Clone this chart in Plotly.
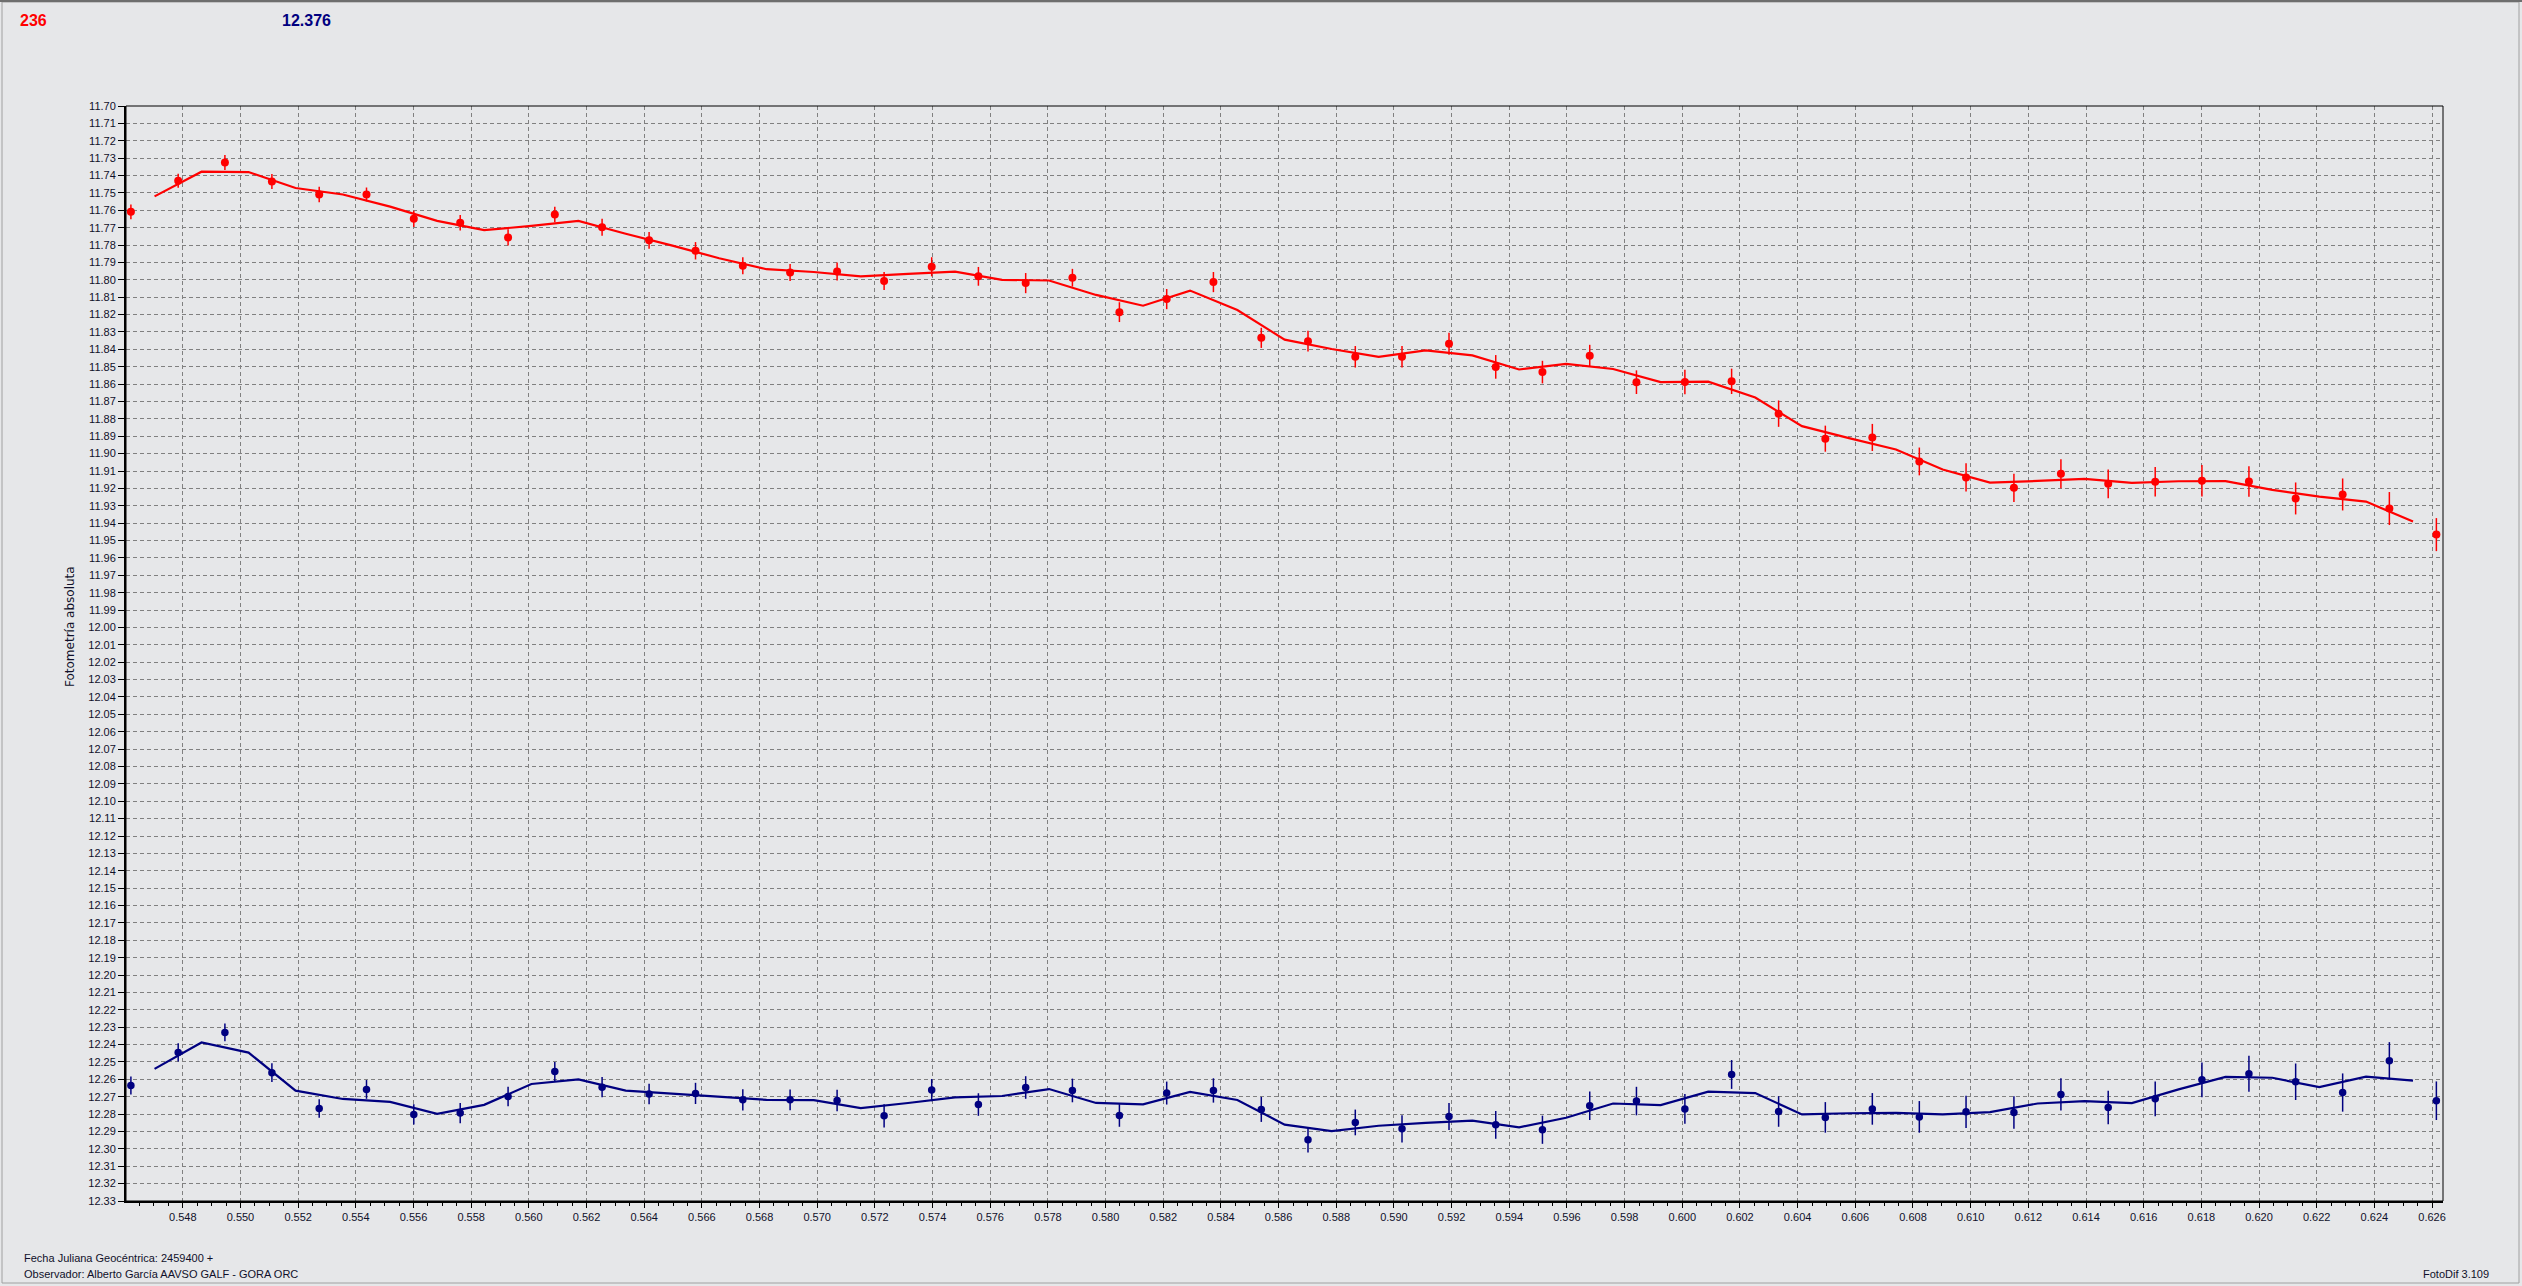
import plotly.graph_objects as go

# ---------------- data ----------------
jd = [0.54620, 0.54784, 0.54946, 0.55109, 0.55273, 0.55437, 0.55601, 0.55762, 0.55928, 0.56090,
      0.56254, 0.56417, 0.56578, 0.56742, 0.56906, 0.57069, 0.57232, 0.57397, 0.57559, 0.57723,
      0.57885, 0.58048, 0.58212, 0.58374, 0.58540, 0.58702, 0.58866, 0.59028, 0.59191, 0.59353,
      0.59515, 0.59679, 0.59841, 0.60009, 0.60171, 0.60334, 0.60496, 0.60659, 0.60822, 0.60984,
      0.61150, 0.61313, 0.61477, 0.61640, 0.61802, 0.61965, 0.62127, 0.62290, 0.62452, 0.62615]

red_mag = [11.7609, 11.7430, 11.7325, 11.7434, 11.7509, 11.7509, 11.7649, 11.7672, 11.7756, 11.7624,
           11.7697, 11.7773, 11.7833, 11.7919, 11.7958, 11.7952, 11.8007, 11.7925, 11.7980, 11.8019,
           11.7988, 11.8186, 11.8111, 11.8013, 11.8334, 11.8353, 11.8443, 11.8443, 11.8368, 11.8501,
           11.8531, 11.8437, 11.8589, 11.8588, 11.8584, 11.8770, 11.8914, 11.8907, 11.9045, 11.9137,
           11.9197, 11.9116, 11.9174, 11.9162, 11.9156, 11.9160, 11.9258, 11.9235, 11.9316, 11.9466]

red_err = [0.0042, 0.0040, 0.0043, 0.0043, 0.0045, 0.0040, 0.0047, 0.0045, 0.0047, 0.0045,
           0.0049, 0.0048, 0.0050, 0.0049, 0.0049, 0.0052, 0.0052, 0.0055, 0.0054, 0.0058,
           0.0051, 0.0057, 0.0058, 0.0058, 0.0058, 0.0060, 0.0062, 0.0062, 0.0063, 0.0068,
           0.0065, 0.0063, 0.0068, 0.0071, 0.0073, 0.0076, 0.0075, 0.0078, 0.0080, 0.0081,
           0.0081, 0.0083, 0.0083, 0.0085, 0.0090, 0.0088, 0.0092, 0.0092, 0.0095, 0.0095]

blue_mag = [12.2635, 12.2445, 12.2330, 12.2562, 12.2768, 12.2658, 12.2802, 12.2794, 12.2699, 12.2555,
            12.2645, 12.2685, 12.2681, 12.2718, 12.2718, 12.2722, 12.2810, 12.2662, 12.2745, 12.2647,
            12.2664, 12.2808, 12.2679, 12.2664, 12.2773, 12.2948, 12.2848, 12.2885, 12.2814, 12.2862,
            12.2890, 12.2752, 12.2725, 12.2770, 12.2572, 12.2785, 12.2819, 12.2770, 12.2816, 12.2787,
            12.2791, 12.2687, 12.2762, 12.2712, 12.2603, 12.2568, 12.2614, 12.2676, 12.2493, 12.2723]

blue_err = [0.0052, 0.0053, 0.0051, 0.0054, 0.0053, 0.0054, 0.0058, 0.0058, 0.0056, 0.0055,
            0.0058, 0.0059, 0.0061, 0.0061, 0.0060, 0.0062, 0.0067, 0.0064, 0.0065, 0.0065,
            0.0068, 0.0065, 0.0066, 0.0070, 0.0072, 0.0073, 0.0074, 0.0078, 0.0078, 0.0080,
            0.0081, 0.0082, 0.0082, 0.0086, 0.0083, 0.0088, 0.0088, 0.0091, 0.0091, 0.0093,
            0.0093, 0.0093, 0.0097, 0.0100, 0.0100, 0.0103, 0.0105, 0.0110, 0.0107, 0.0111]

# smoothed curves
curve_jd = [0.54702, 0.54865, 0.55028, 0.55191, 0.55355, 0.55519, 0.55682, 0.55845, 0.56009, 0.56172,
            0.56336, 0.56498, 0.56660, 0.56824, 0.56988, 0.57151, 0.57315, 0.57478, 0.57641, 0.57804,
            0.57967, 0.58130, 0.58293, 0.58457, 0.58621, 0.58784, 0.58947, 0.59110, 0.59272, 0.59434,
            0.59597, 0.59760, 0.59925, 0.60090, 0.60253, 0.60415, 0.60578, 0.60741, 0.60903, 0.61067,
            0.61232, 0.61395, 0.61559, 0.61721, 0.61884, 0.62046, 0.62209, 0.62371, 0.62534]

red_curve = [11.7520, 11.7378, 11.7380, 11.7472, 11.7509, 11.7579, 11.7661, 11.7714, 11.7690, 11.7661,
             11.7735, 11.7803, 11.7876, 11.7939, 11.7955, 11.7980, 11.7966, 11.7953, 11.8000, 11.8004,
             11.8087, 11.8149, 11.8062, 11.8174, 11.8344, 11.8398, 11.8443, 11.8406, 11.8435, 11.8516,
             11.8484, 11.8513, 11.8589, 11.8586, 11.8677, 11.8842, 11.8911, 11.8976, 11.9091, 11.9167,
             11.9157, 11.9145, 11.9168, 11.9159, 11.9158, 11.9209, 11.9247, 11.9276, 11.9391]

blue_curve = [12.2540, 12.2388, 12.2446, 12.2665, 12.2713, 12.2730, 12.2798, 12.2747, 12.2627, 12.2600,
              12.2665, 12.2683, 12.2700, 12.2718, 12.2720, 12.2766, 12.2736, 12.2704, 12.2696, 12.2656,
              12.2736, 12.2744, 12.2672, 12.2719, 12.2861, 12.2898, 12.2867, 12.2850, 12.2838, 12.2876,
              12.2821, 12.2739, 12.2748, 12.2671, 12.2679, 12.2802, 12.2795, 12.2793, 12.2802, 12.2789,
              12.2739, 12.2725, 12.2737, 12.2658, 12.2586, 12.2591, 12.2645, 12.2585, 12.2608]

red_label = "236"
blue_label = "12.376"
y_title = "Fotometría absoluta"
footer_1 = "Fecha Juliana Geocéntrica: 2459400 +"
footer_2 = "Observador: Alberto García AAVSO GALF - GORA ORC"
footer_3 = "FotoDif 3.109"

# ---------------- styling ----------------
W, H = 2522, 1286
L, R, T, B = 126, 79, 106, 85
BG = "#E6E7E9"
RED = "#FF0000"
NAVY = "#000080"
FONT = "Liberation Sans, Arial, sans-serif"
TXT = "#10102a"


def px(X):
    return (X - L) / (W - L - R)


def py(Y):
    return (H - B - Y) / (H - T - B)


fig = go.Figure()

fig.add_trace(go.Scatter(x=curve_jd, y=red_curve, mode="lines",
                         line=dict(color=RED, width=2.2), hoverinfo="skip"))
fig.add_trace(go.Scatter(x=curve_jd, y=blue_curve, mode="lines",
                         line=dict(color=NAVY, width=2.2), hoverinfo="skip"))
fig.add_trace(go.Scatter(x=jd, y=red_mag, mode="markers",
                         marker=dict(color=RED, size=8, line=dict(width=0)),
                         error_y=dict(type="data", array=red_err, visible=True,
                                      color=RED, thickness=1.5, width=0),
                         cliponaxis=False))
fig.add_trace(go.Scatter(x=jd, y=blue_mag, mode="markers",
                         marker=dict(color=NAVY, size=7.5, line=dict(width=0)),
                         error_y=dict(type="data", array=blue_err, visible=True,
                                      color=NAVY, thickness=1.5, width=0),
                         cliponaxis=False))

axis_common = dict(showgrid=True, gridcolor="#808080", gridwidth=1, griddash="4px,3px",
                   zeroline=False, showline=True, linecolor="black", linewidth=2,
                   ticks="outside", tickcolor="black",
                   tickfont=dict(family=FONT, size=11, color=TXT))

fig.update_xaxes(range=[0.54603, 0.62638], tick0=0.548, dtick=0.002, tickformat=".3f",
                 ticklen=5,
                 minor=dict(tick0=0.548, dtick=0.0005, ticks="outside", ticklen=3,
                            tickcolor="black", showgrid=False),
                 **axis_common)
fig.update_yaxes(range=[12.33, 11.70], tick0=11.70, dtick=0.01, tickformat=".2f",
                 ticklen=6, **axis_common)

shapes = [
    # thin frame on top/right of plot area
    dict(type="rect", xref="x domain", yref="y domain", x0=0, x1=1, y0=0, y1=1,
         line=dict(color="black", width=1), layer="above"),
    # window frame
    dict(type="rect", xref="paper", yref="paper", x0=px(2), x1=px(W - 3), y0=py(2), y1=py(H - 3),
         line=dict(color="#A0A0A0", width=1), layer="below"),
    dict(type="line", xref="paper", yref="paper", x0=px(0), x1=px(W), y0=py(1), y1=py(1),
         line=dict(color="#6E6E6E", width=2)),
]

ann = [
    dict(text="<b>%s</b>" % red_label, x=px(18), y=py(20), xanchor="left", yanchor="middle",
         font=dict(family=FONT, size=16, color=RED)),
    dict(text="<b>%s</b>" % blue_label, x=px(280), y=py(20), xanchor="left", yanchor="middle",
         font=dict(family=FONT, size=16, color=NAVY)),
    dict(text=y_title, x=px(70), y=py(627), xanchor="center", yanchor="middle", textangle=-90,
         font=dict(family="DejaVu Sans, Verdana, sans-serif", size=12, color=TXT)),
    dict(text=footer_1, x=px(22), y=py(1258), xanchor="left", yanchor="middle",
         font=dict(family=FONT, size=11, color=TXT)),
    dict(text=footer_2, x=px(22), y=py(1274), xanchor="left", yanchor="middle",
         font=dict(family=FONT, size=11, color=TXT)),
    dict(text=footer_3, x=px(2421), y=py(1274), xanchor="left", yanchor="middle",
         font=dict(family=FONT, size=11, color=TXT)),
]
for a in ann:
    a.update(xref="paper", yref="paper", showarrow=False)

fig.update_layout(width=W, height=H, margin=dict(l=L, r=R, t=T, b=B, pad=0),
                  paper_bgcolor=BG, plot_bgcolor=BG, showlegend=False,
                  font=dict(family=FONT, size=11, color="black"),
                  shapes=shapes, annotations=ann)

page_fix = ("document.body.style.margin='0';document.body.style.padding='0';"
            "document.body.style.overflow='hidden';"
            "document.body.style.background='%s';" % BG)

fig.write_html("out.html", config={"displayModeBar": False}, post_script=page_fix)
